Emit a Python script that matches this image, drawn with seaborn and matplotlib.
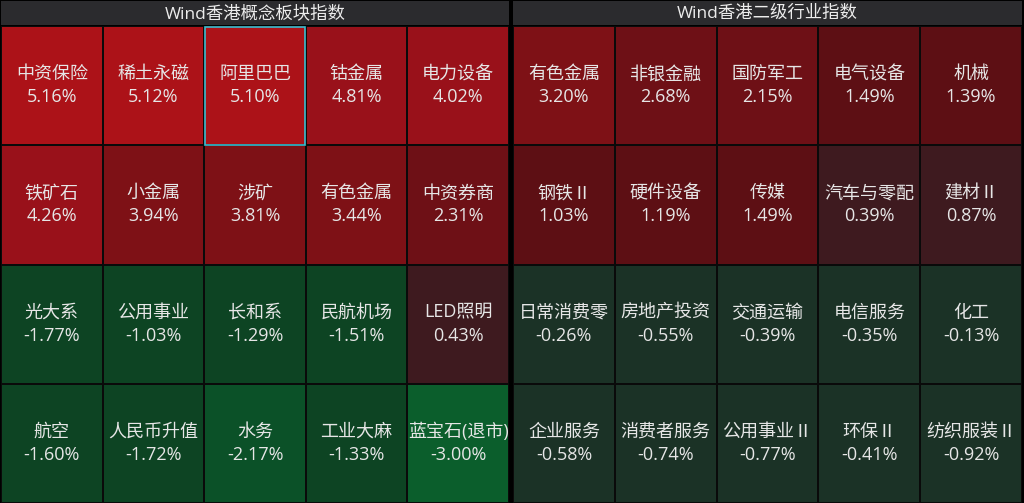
import matplotlib
matplotlib.use("Agg")
import matplotlib.pyplot as plt
import numpy as np
import seaborn as sns
from matplotlib.colors import ListedColormap
from matplotlib.patches import Rectangle

# Panel titles
left_title = "Wind香港概念板块指数"
right_title = "Wind香港二级行业指数"

# Left panel: concept indices (4 rows x 5 cols)
left_names = [
    ["中资保险", "稀土永磁", "阿里巴巴", "钴金属", "电力设备"],
    ["铁矿石", "小金属", "涉矿", "有色金属", "中资券商"],
    ["光大系", "公用事业", "长和系", "民航机场", "LED照明"],
    ["航空", "人民币升值", "水务", "工业大麻", "蓝宝石(退市)"],
]
left_values = [
    [5.16, 5.12, 5.10, 4.81, 4.02],
    [4.26, 3.94, 3.81, 3.44, 2.31],
    [-1.77, -1.03, -1.29, -1.51, 0.43],
    [-1.60, -1.72, -2.17, -1.33, -3.00],
]

# Right panel: level-2 industry indices
right_names = [
    ["有色金属", "非银金融", "国防军工", "电气设备", "机械"],
    ["钢铁Ⅱ", "硬件设备", "传媒", "汽车与零配", "建材Ⅱ"],
    ["日常消费零", "房地产投资", "交通运输", "电信服务", "化工"],
    ["企业服务", "消费者服务", "公用事业Ⅱ", "环保Ⅱ", "纺织服装Ⅱ"],
]
right_values = [
    [3.20, 2.68, 2.15, 1.49, 1.39],
    [1.03, 1.19, 1.49, 0.39, 0.87],
    [-0.26, -0.55, -0.39, -0.35, -0.13],
    [-0.58, -0.74, -0.77, -0.41, -0.92],
]

highlight = "阿里巴巴"

# one colour per whole-percent bucket: -3.x ... 5.x
bucket_colors = [
    "#0b5e2c", "#0b5128", "#0d4423", "#1b3226",
    "#3e1a1f", "#5d0f14", "#6e1016", "#7e1116", "#99111a", "#ac1218",
]
cmap = ListedColormap(bucket_colors)


def bucket(vals):
    v = np.asarray(vals)
    return np.where(v >= 0, np.floor(v), -np.floor(-v) - 1)


def labels(names, vals):
    return np.array(
        [[f"{n}\n{v:.2f}%" for n, v in zip(rn, rv)] for rn, rv in zip(names, vals)]
    )


plt.rcParams["font.family"] = ["Open Sans", "Noto Sans CJK SC", "DejaVu Sans"]

W, H = 1024, 503
fig = plt.figure(figsize=(W / 100, H / 100), dpi=100, facecolor="black")

head_h = 25
panels = [
    (left_title, left_names, left_values, 1, 509),
    (right_title, right_names, right_values, 513, 1022),
]

for title, names, vals, x0, x1 in panels:
    # header strip
    hax = fig.add_axes([x0 / W, 1 - head_h / H, (x1 - x0) / W, (head_h - 1) / H])
    hax.set_facecolor("#2b2b2e")
    hax.set_xticks([])
    hax.set_yticks([])
    for s in hax.spines.values():
        s.set_visible(False)
    hax.text(0.5, 0.45, title, ha="center", va="center", color="#ececec",
             fontsize=12.5, transform=hax.transAxes)

    ax = fig.add_axes([x0 / W, 0, (x1 - x0) / W, (H - head_h - 1) / H])
    sns.heatmap(
        bucket(vals), ax=ax, cmap=cmap, vmin=-4.5, vmax=5.5, cbar=False,
        annot=labels(names, vals), fmt="",
        annot_kws={"color": "#e6e6e6", "fontsize": 13, "linespacing": 1.35},
        linewidths=1.2, linecolor="#0a0a0a",
        xticklabels=False, yticklabels=False,
    )
    for r, row in enumerate(names):
        for c, n in enumerate(row):
            if n == highlight:
                ax.add_patch(Rectangle((c + 0.005, r + 0.005), 0.99, 0.99,
                                       fill=False, edgecolor="#3dbcd0", lw=1.2))

fig.savefig("out.png", dpi=100, facecolor="black")
